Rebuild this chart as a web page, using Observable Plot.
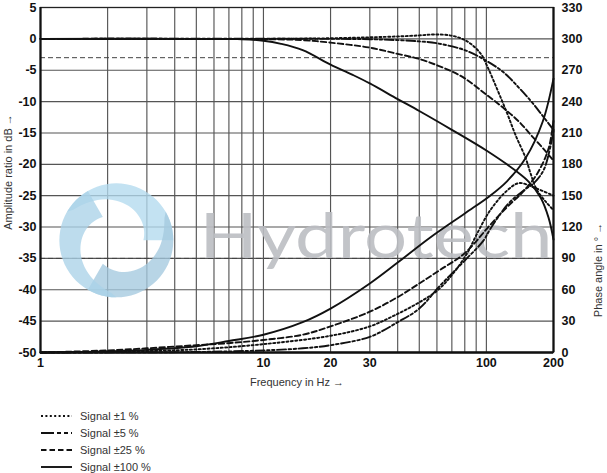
<!DOCTYPE html>
<html><head><meta charset="utf-8">
<script src="https://cdn.jsdelivr.net/npm/d3@7"></script>
<script src="https://cdn.jsdelivr.net/npm/@observablehq/plot@0.6"></script>
<style>
body{margin:0;background:#fff;}
#legend{padding:10px 0 0 41px;font-family:"Liberation Sans",Arial,sans-serif;font-size:11px;color:#333;}
#legend .row{height:16.8px;display:flex;align-items:center;}
#legend svg{margin-right:7px;}
</style></head><body><div id="chart"></div><div id="legend"></div>
<script>
const FONT = '"Liberation Sans",Arial,sans-serif';
const seriesNames = ["Signal ±1 %", "Signal ±5 %", "Signal ±25 %", "Signal ±100 %"];
// amplitude ratio (dB) [frequency Hz, dB]
const amp1 = [[1,0],[10,0],[20,0.1],[30,0.25],[41,0.4],[50,0.55],[58,0.7],[70,0.5],[82,-0.4],[94,-2.3],[101,-4.4],[112,-8.1],[124,-11.9],[135,-15.3],[150,-19],[158,-21.5],[168,-24],[185,-26],[200,-27.3]];
const amp5 = [[1,0],[20,0],[30,-0.05],[40,-0.2],[50,-0.4],[60,-0.7],[80,-1.8],[100,-3.5],[120,-5.4],[140,-7.8],[160,-10.1],[180,-12.4],[200,-14.5]];
const amp25 = [[1,0],[10,-0.05],[15,-0.2],[20,-0.6],[30,-1.4],[40,-2.4],[50,-3.2],[60,-4.2],[70,-5.2],[80,-6.3],[100,-8.9],[120,-11.1],[140,-13.2],[160,-15.5],[180,-17.5],[200,-19.4]];
const amp100 = [[1,0],[5,0],[8,-0.05],[10,-0.3],[12,-0.8],[15,-1.8],[20,-4.1],[25,-5.7],[30,-7.1],[40,-9.6],[50,-11.5],[70,-14.5],[100,-17.8],[135,-21],[155,-22.8],[175,-25.3],[190,-28.5],[200,-32]];
// phase angle (degrees) [frequency Hz, °]
const phase1 = [[1,0],[3,1.5],[5,3],[10,8],[20,16],[30,25],[40,37],[50,48],[60,59],[70,74],[82,95],[90,112],[104,136],[124,155],[140,162],[163,158],[200,150]];
const phase5 = [[1,0],[5,0.5],[10,2],[15,4],[20,7],[30,15],[40,29],[50,42],[62,64],[80,88],[97,107],[104,118],[125,142],[147,155],[165,163],[182,176],[200,212]];
const phase25 = [[1,0],[2,2],[3,4],[5,7],[7,9],[10,12],[15,17],[20,25],[30,39],[40,53],[50,66],[62,79],[80,95],[104,122],[125,140],[148,155],[170,172],[190,195],[200,222]];
const phase100 = [[1,0],[2,1],[3,2.5],[5,6],[7,11],[10,17],[15,29],[20,42],[30,66],[40,86],[56,110],[80,133],[104,150],[124,164],[150,186],[179,221],[200,262]];

const xTicks = [1, 10, 20, 30, 50, 100, 200];
const xGrid = [2,3,4,5,6,7,8,9,10,20,30,40,50,60,70,80,90,100];
const yTicks = [-50,-45,-40,-35,-30,-25,-20,-15,-10,-5,0,5];
const phaseTicks = [0,30,60,90,120,150,180,210,240,270,300,330];
const refLines = [-3, -35];

const dashes = ["2,2.4", "9,2.5,2.5,2.5,2.5,2.5", "5.5,3", null];
const phaseToDb = p => p / 6 - 50;

function bladePath(s) {
  const R = 57, r = 27, span = 150, n = 30, pts = [];
  for (let k = 0; k <= n; k++) {
    const a = (s + span * k / n) * Math.PI / 180;
    pts.push([R * Math.sin(a), -R * Math.cos(a)]);
  }
  for (let k = n; k >= 0; k--) {
    const t = k / n, a = (s + span * t) * Math.PI / 180;
    const rr = R - (R - r) * Math.pow(t, 0.6);
    pts.push([rr * Math.sin(a), -rr * Math.cos(a)]);
  }
  return "M" + pts.map(p => p[0].toFixed(2) + "," + p[1].toFixed(2)).join("L") + "Z";
}

function watermark(index, scales) {
  const g = d3.create("svg:g");
  const cx = scales.x(2.2), cy = scales.y(-32.2);
  const lg = g.append("g").attr("transform", `translate(${cx},${cy})`);
  const cols = ["#b2daee", "#a4c9df", "#aad2e8"];
  [-60, 60, 180].forEach((s, i) => {
    lg.append("path").attr("d", bladePath(s)).attr("fill", cols[i]).attr("opacity", 0.78);
  });
  g.append("text")
    .attr("x", scales.x(5.2)).attr("y", scales.y(-35))
    .attr("text-anchor", "start")
    .attr("font-family", "Lato, 'Open Sans', sans-serif").attr("font-weight", 400)
    .attr("font-size", 62).attr("fill", "#bcbec3").attr("opacity", 0.9)
    .attr("textLength", 353).attr("lengthAdjust", "spacingAndGlyphs")
    .text("Hydrotech");
  return g.node();
}

const marks = [
  Plot.ruleX(xGrid, {stroke: "#555", strokeWidth: 1.15}),
  Plot.ruleY(yTicks, {stroke: "#555", strokeWidth: 1.15}),
  Plot.ruleY(refLines, {stroke: "#444", strokeWidth: 1, strokeDasharray: "5,3"}),
  watermark
];
[amp1, amp5, amp25, amp100].forEach((s, i) => marks.push(Plot.line(s, {
  x: d => d[0], y: d => d[1], curve: "catmull-rom", stroke: "#111", strokeWidth: 1.9, strokeDasharray: dashes[i]
})));
[phase1, phase5, phase25, phase100].forEach((s, i) => marks.push(Plot.line(s, {
  x: d => d[0], y: d => phaseToDb(d[1]), curve: "catmull-rom", stroke: "#111", strokeWidth: 1.9, strokeDasharray: dashes[i]
})));
marks.push(
  Plot.frame({stroke: "#222", strokeWidth: 1.3}),
  Plot.ruleX([1, 200], {stroke: "#111", strokeWidth: 2.2}),
  Plot.ruleY([-50], {stroke: "#111", strokeWidth: 2.6}),
  Plot.axisX(xTicks, {tickSize: 0, tickPadding: 6, tickFormat: d => String(d), fontSize: 12.5, fontWeight: "bold", label: null}),
  Plot.axisY(yTicks, {anchor: "left", tickSize: 0, tickPadding: 4, tickFormat: d => d < 0 ? "-" + (-d) : String(d), fontSize: 12.5, fontWeight: "bold", label: null}),
  Plot.axisY(phaseTicks.map(phaseToDb), {anchor: "right", tickSize: 0, tickPadding: 8, tickFormat: d => String(Math.round((d + 50) * 6)), fontSize: 12.5, fontWeight: "bold", label: null}),
  Plot.text(["Frequency in Hz →"], {frameAnchor: "bottom", dy: 33, fontSize: 11, fill: "#333"}),
  Plot.text(["Amplitude ratio in dB →"], {frameAnchor: "left", textAnchor: "middle", rotate: -90, dx: -32, dy: -8, fontSize: 11, fill: "#333"}),
  Plot.text(["Phase angle in ° →"], {frameAnchor: "right", textAnchor: "middle", rotate: -90, dx: 45, dy: 90, fontSize: 11, fill: "#333"})
);

const plot = Plot.plot({
  width: 607, height: 398,
  marginTop: 7, marginBottom: 46, marginLeft: 40, marginRight: 54,
  x: {type: "log", domain: [1, 200]},
  y: {domain: [-50, 5]},
  style: {fontFamily: FONT, background: "white", color: "#111"},
  marks
});
document.getElementById("chart").appendChild(plot);

const legend = document.getElementById("legend");
seriesNames.forEach((name, i) => {
  const row = document.createElement("div");
  row.className = "row";
  const dash = i === 1 ? "13,3,4,3,4,3" : dashes[i];
  row.innerHTML = `<svg width="32" height="10"><line x1="0" y1="5" x2="31" y2="5" stroke="#111" stroke-width="1.9" ${dash ? `stroke-dasharray="${dash}"` : ""}/></svg><span>${name}</span>`;
  legend.appendChild(row);
});
</script></body></html>
